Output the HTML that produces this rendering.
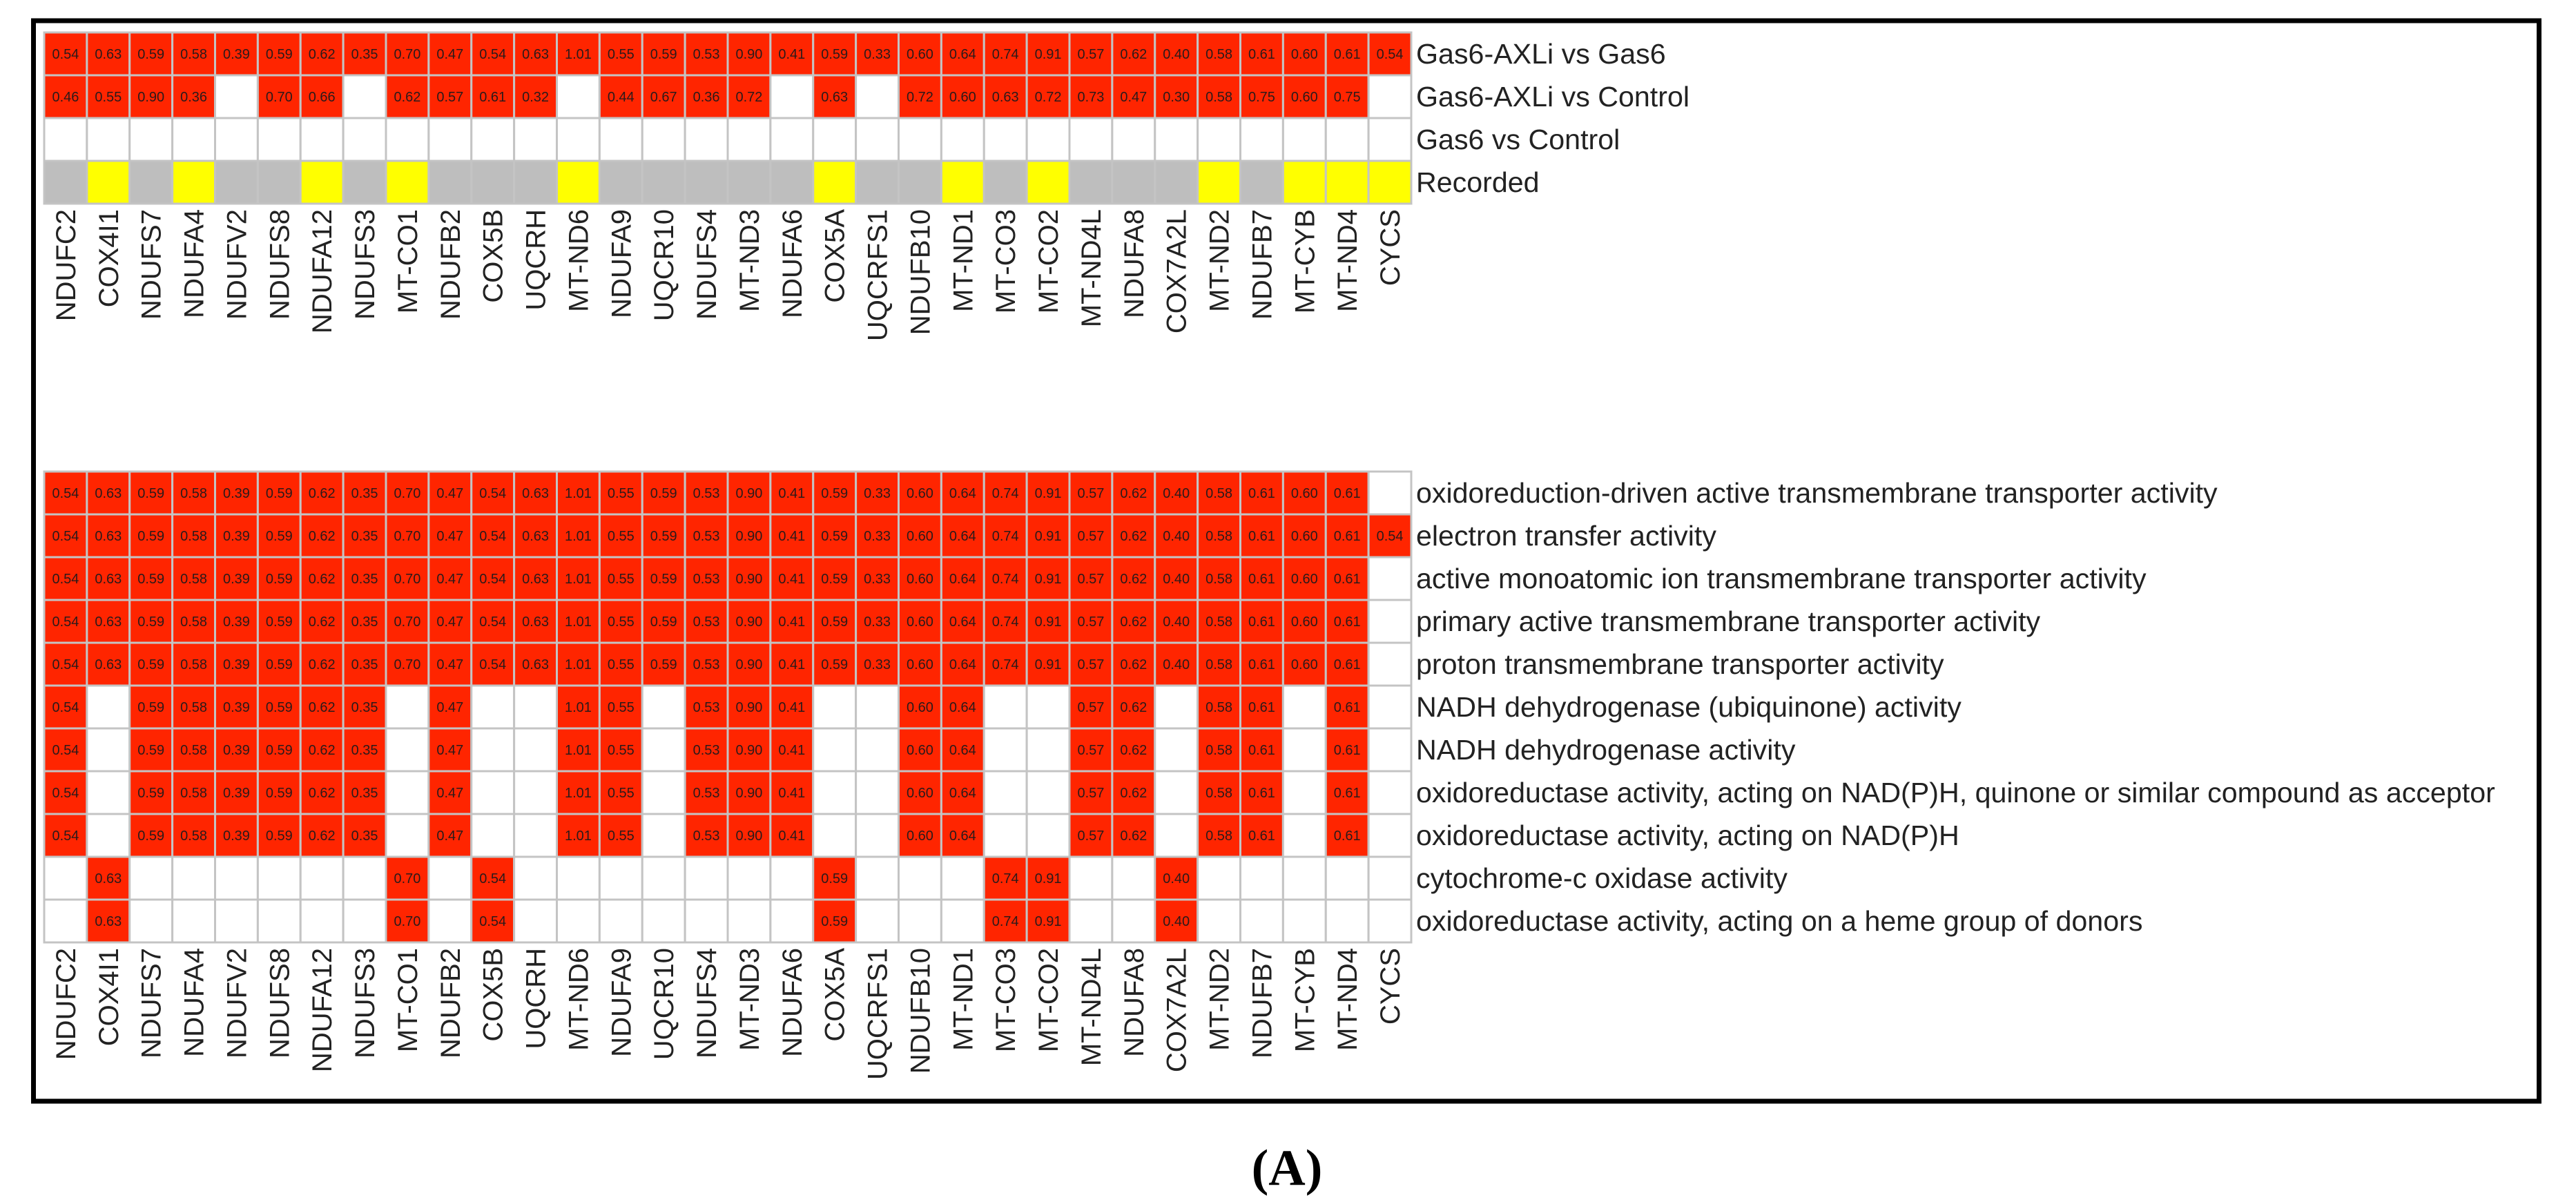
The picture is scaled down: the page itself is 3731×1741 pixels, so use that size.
<!DOCTYPE html>
<html><head><meta charset="utf-8">
<style>
html,body{margin:0;padding:0;background:#fff;}
svg{display:block;}
text{font-family:"Liberation Sans",Arial,sans-serif;}
</style></head>
<body>
<svg id="chart" width="3731" height="1741" viewBox="0 0 3731 1741" xmlns="http://www.w3.org/2000/svg">
<rect x="48.5" y="30" width="3629" height="1565" fill="none" stroke="#000" stroke-width="7"/>
<g id="topGrid"></g>
<g id="bottomGrid"></g>
<text x="1864" y="1716" text-anchor="middle" font-size="74" font-weight="bold" style="font-family:'Liberation Serif',serif">(A)</text>
</svg>
<script>
const genes = ["NDUFC2","COX4I1","NDUFS7","NDUFA4","NDUFV2","NDUFS8","NDUFA12","NDUFS3","MT-CO1","NDUFB2","COX5B","UQCRH","MT-ND6","NDUFA9","UQCR10","NDUFS4","MT-ND3","NDUFA6","COX5A","UQCRFS1","NDUFB10","MT-ND1","MT-CO3","MT-CO2","MT-ND4L","NDUFA8","COX7A2L","MT-ND2","NDUFB7","MT-CYB","MT-ND4","CYCS"];
const vsGas6 = [0.54,0.63,0.59,0.58,0.39,0.59,0.62,0.35,0.70,0.47,0.54,0.63,1.01,0.55,0.59,0.53,0.90,0.41,0.59,0.33,0.60,0.64,0.74,0.91,0.57,0.62,0.40,0.58,0.61,0.60,0.61,0.54];
const vsControl = [0.46,0.55,0.90,0.36,null,0.70,0.66,null,0.62,0.57,0.61,0.32,null,0.44,0.67,0.36,0.72,null,0.63,null,0.72,0.60,0.63,0.72,0.73,0.47,0.30,0.58,0.75,0.60,0.75,null];
const gas6VsControl = [null,null,null,null,null,null,null,null,null,null,null,null,null,null,null,null,null,null,null,null,null,null,null,null,null,null,null,null,null,null,null,null];
const recorded = [0,1,0,1,0,0,1,0,1,0,0,0,1,0,0,0,0,0,1,0,0,1,0,1,0,0,0,1,0,1,1,1];
const topRows = ["Gas6-AXLi vs Gas6","Gas6-AXLi vs Control","Gas6 vs Control","Recorded"];
const goTerms = ["oxidoreduction-driven active transmembrane transporter activity","electron transfer activity","active monoatomic ion transmembrane transporter activity","primary active transmembrane transporter activity","proton transmembrane transporter activity","NADH dehydrogenase (ubiquinone) activity","NADH dehydrogenase activity","oxidoreductase activity, acting on NAD(P)H, quinone or similar compound as acceptor","oxidoreductase activity, acting on NAD(P)H","cytochrome-c oxidase activity","oxidoreductase activity, acting on a heme group of donors"];
const inOxido = [1,1,1,1,1,1,1,1,1,1,1,1,1,1,1,1,1,1,1,1,1,1,1,1,1,1,1,1,1,1,1,0];
const inElectron = [1,1,1,1,1,1,1,1,1,1,1,1,1,1,1,1,1,1,1,1,1,1,1,1,1,1,1,1,1,1,1,1];
const inNADH = [1,0,1,1,1,1,1,1,0,1,0,0,1,1,0,1,1,1,0,0,1,1,0,0,1,1,0,1,1,0,1,0];
const inCox = [0,1,0,0,0,0,0,0,1,0,1,0,0,0,0,0,0,0,1,0,0,0,1,1,0,0,1,0,0,0,0,0];
const goMembership = [inOxido,inElectron,inOxido,inOxido,inOxido,inNADH,inNADH,inNADH,inNADH,inCox,inCox];

(function(){
const NS="http://www.w3.org/2000/svg";
const X0=64, CW=(2044-64)/32, RH=62;
const xPos=i=>X0+i*CW;
function mk(tag,attrs,parent){const e=document.createElementNS(NS,tag);for(const k in attrs)e.setAttribute(k,attrs[k]);parent.appendChild(e);return e;}
function cell(g,i,r,y0,fill,val){
  const c=mk('rect',{x:xPos(i),y:y0+r*RH,width:CW,height:RH,fill:fill,stroke:'#c4c4c4','stroke-width':3},g);
  
  
  if(val!==null&&val!==undefined){
    const t=mk('text',{x:xPos(i)+CW/2,y:y0+r*RH+RH/2+7,'text-anchor':'middle','font-size':20,fill:'#2a1a1a'},g);
    t.textContent=val.toFixed(2);
    
    
  }
}
function rowLabel(g,txt,r,y0){
  const t=mk('text',{x:2051,y:y0+r*RH+RH/2+14,'font-size':41.2,fill:'#222'},g);
  t.textContent=txt;
  
  
}
function colLabels(g,yTop){
  genes.forEach((gn,i)=>{
    const cx=xPos(i)+CW/2+14;
    const t=mk('text',{x:cx,y:yTop,'font-size':40,fill:'#222','text-anchor':'end',transform:`rotate(-90 ${cx} ${yTop})`},g);
    t.textContent=gn;
    
    
  });
}
const RED='#ff2500';
const tg=document.getElementById('topGrid'); const TY=47;
[vsGas6,vsControl,gas6VsControl].forEach((arr,r)=>arr.forEach((v,i)=>cell(tg,i,r,TY,v===null?'#fff':RED,v)));
recorded.forEach((v,i)=>cell(tg,i,3,TY,v?'#ffff00':'#bebebe',null));
topRows.forEach((t,r)=>rowLabel(tg,t,r,TY));
colLabels(tg,TY+4*RH+8);

const bg=document.getElementById('bottomGrid'); const BY=683;
goMembership.forEach((mem,r)=>{
  mem.forEach((m,i)=>cell(bg,i,r,BY,m?RED:'#fff',m?vsGas6[i]:null));
  rowLabel(bg,goTerms[r],r,BY);
});
colLabels(bg,BY+11*RH+8);
})();
</script>
</body></html>
